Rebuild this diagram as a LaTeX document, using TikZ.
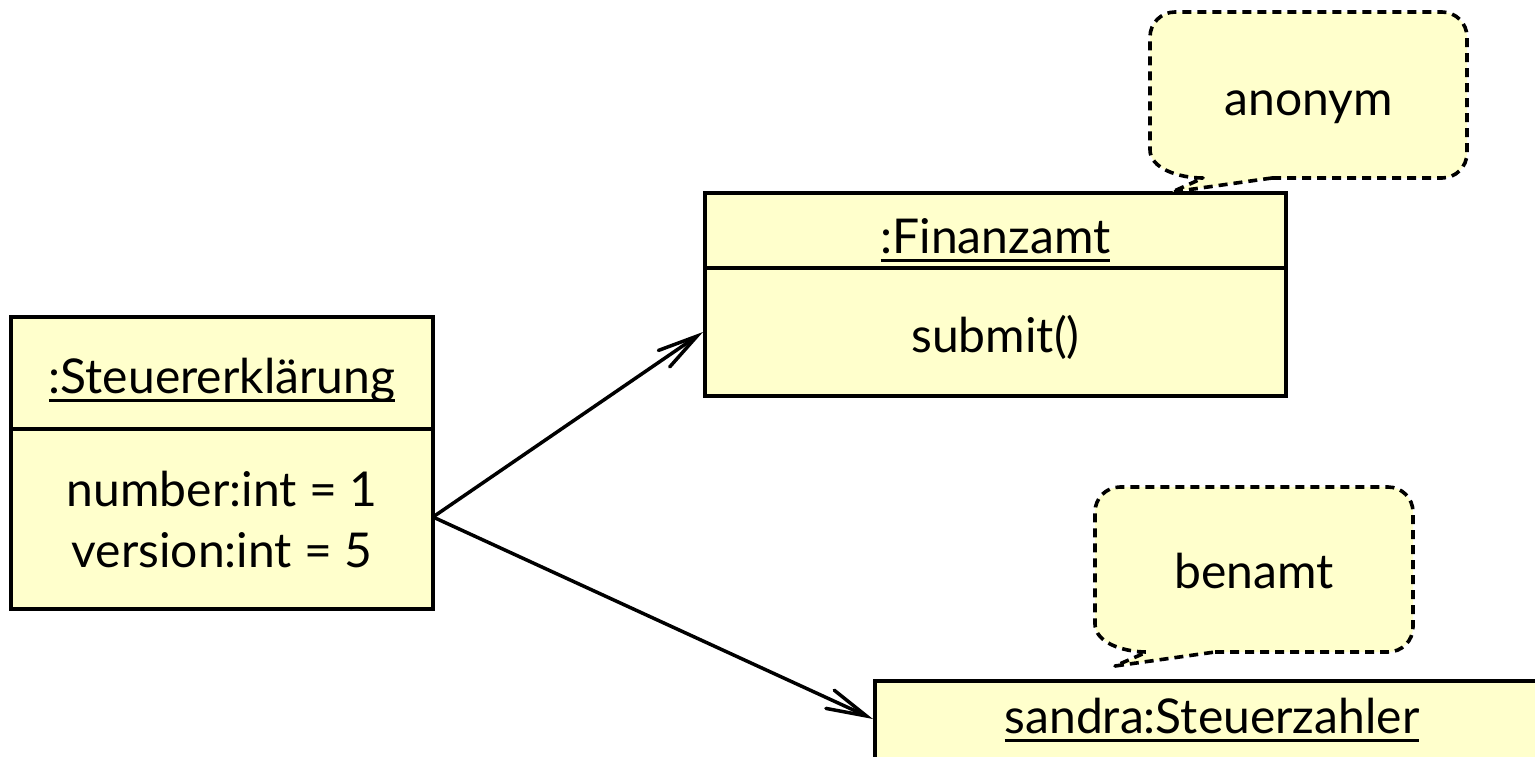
\documentclass[tikz,border=0pt]{standalone}
\usepackage{fontspec}
\setmainfont{Lato}
\usetikzlibrary{arrows.meta}
\definecolor{umlfill}{RGB}{255,255,204}
\newcommand\ulx[1]{\setbox0\hbox{#1}\rlap{\rule[-8.5pt]{\wd0}{3pt}}\box0}
\tikzset{
  objbox/.style={draw=black, line width=4pt, fill=umlfill, inner sep=0pt},
  divider/.style={draw=black, line width=4pt},
  txt/.style={inner sep=0pt, anchor=base, align=center, font=\fontsize{48}{61}\selectfont},
  notebody/.style={draw=black, line width=3.6pt, fill=umlfill, dash pattern=on 9pt off 6pt, line join=round},
  link/.style={draw=black, line width=3.5pt, -{Straight Barb[length=40pt,width=20pt,line cap=round]}}
}
\begin{document}
\begin{tikzpicture}[x=1pt,y=-1pt]
\useasboundingbox (0,0) rectangle (1535,756);
\begin{scope}
\clip (0,0) rectangle (1535,756);
% Steuererklaerung
\node[objbox, minimum width=422pt, minimum height=292pt] (st) at (222,463) {};
\draw[divider] (st.west |- 0,429) -- (st.east |- 0,429);
\node[txt] (stName) at (222,393) {\ulx{:Steuererklärung}};
\node[txt] (stAttr) at (222,567) {number:int = 1\\version:int = 5};
% Finanzamt
\node[objbox, minimum width=581pt, minimum height=203pt] (fa) at (995.5,294.5) {};
\draw[divider] (fa.west |- 0,268) -- (fa.east |- 0,268);
\node[txt] (faName) at (995.5,253) {\ulx{:Finanzamt}};
\node[txt] (faOp) at (995.5,352) {submit()};
% sandra
\node[objbox, minimum width=700pt, minimum height=130pt] (sa) at (1225,746) {};
\node[txt] (saName) at (1212,733) {\ulx{sandra:Steuerzahler}};
% notes
\draw[notebody] (1272,178) -- (1442,178) .. controls (1455.8,178) and (1467,166.8) .. (1467,153)
  -- (1467,37) .. controls (1467,23.2) and (1455.8,12) .. (1442,12)
  -- (1175,12) .. controls (1161.2,12) and (1150,23.2) .. (1150,37)
  -- (1150,150) .. controls (1150,168) and (1178,178) .. (1203,178)
  -- (1172,192) -- cycle;
\node[txt] (noteA) at (1308.5,115) {anonym};
\draw[notebody] (1215,652) -- (1388,652) .. controls (1401.8,652) and (1413,640.8) .. (1413,627)
  -- (1413,512) .. controls (1413,498.2) and (1401.8,487) .. (1388,487)
  -- (1120,487) .. controls (1106.2,487) and (1095,498.2) .. (1095,512)
  -- (1095,624) .. controls (1095,642) and (1122,652) .. (1147,652)
  -- (1115,666) -- cycle;
\node[txt] (noteB) at (1254,588) {benamt};
% connectors
\coordinate (src) at (433,517);
\coordinate (faIn) at (703,332);
\coordinate (saIn) at (873,719);
\draw[link] (src) -- (faIn);
\draw[link] (src) -- (saIn);
\end{scope}
\end{tikzpicture}
\end{document}
